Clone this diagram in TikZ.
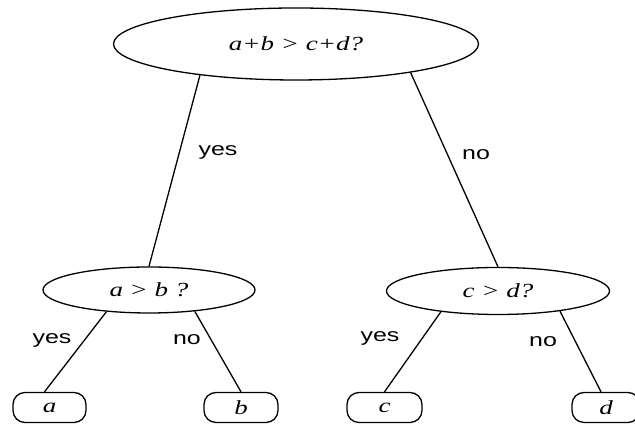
\documentclass[tikz,border=0pt]{standalone}
\usepackage{fontspec}
\setmainfont{Liberation Serif}[FakeStretch=1.35]
\setsansfont{Liberation Sans}[FakeStretch=1.35]
\usetikzlibrary{shapes,positioning,calc}

\tikzset{
  test/.style={ellipse, draw, line width=1.3pt, inner sep=0pt, font=\fontsize{20}{22}\selectfont\itshape},
  leaf/.style={rectangle, rounded corners=12pt, draw, line width=1.3pt, minimum height=30pt, inner sep=0pt, font=\fontsize{20}{22}\selectfont\itshape},
  lbl/.style={font=\sffamily\fontsize{18.5}{20}\selectfont},
  branch/.style={line width=1.3pt}
}

\begin{document}
\begin{tikzpicture}[x=1pt,y=1pt]
\useasboundingbox (0,0) rectangle (635,427);
% questions
\node[test, minimum width=365pt, minimum height=72pt] (top) at (296,383) {a+b > c+d?};
\node[test, minimum width=212pt, minimum height=46pt] (ab) at (149,137) {a > b ?};
\node[test, minimum width=223pt, minimum height=47pt] (cd) at (498,136) {c > d?};
% answers
\node[leaf, minimum width=73pt] (a) at (49.5,19.5) {a};
\node[leaf, minimum width=74pt] (b) at (241,19.5) {b};
\node[leaf, minimum width=75pt] (c) at (384.5,19.5) {c};
\node[leaf, minimum width=68pt] (d) at (606,19.5) {d};
% branches
\draw[branch] (top.198) -- (ab.north);
\draw[branch] (top.346) -- (cd.north);
\draw[branch] (ab.207) -- ([xshift=-5pt]a.north);
\draw[branch] (ab.335) -- (b.north);
\draw[branch] (cd.200) -- (c.north);
\draw[branch] (cd.342) -- ([xshift=-5pt]d.north);
% branch labels
\node[lbl] (yes0) at (218,275) {yes};
\node[lbl] (no0) at (476,272) {no};
\node[lbl] (yes1) at (52,87) {yes};
\node[lbl] (no1) at (187,87) {no};
\node[lbl] (yes2) at (380,89) {yes};
\node[lbl] (no2) at (543,85) {no};
\end{tikzpicture}
\end{document}
